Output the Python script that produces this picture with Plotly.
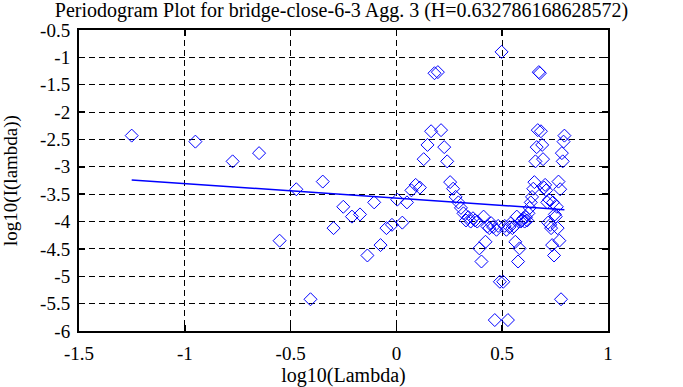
import plotly.graph_objects as go

# log10 of the Fourier frequencies (lambda) and log10 of the periodogram I(lambda)
log_lambda = [
    -1.251, -0.950, -0.774, -0.649, -0.552, -0.473, -0.406, -0.348, -0.297, -0.251,
    -0.210, -0.172, -0.137, -0.105, -0.075, -0.047, -0.021, 0.004, 0.028, 0.050,
    0.071, 0.091, 0.111, 0.129, 0.147, 0.164, 0.180, 0.196, 0.211, 0.226,
    0.240, 0.254, 0.268, 0.280, 0.293, 0.305, 0.317, 0.329, 0.340, 0.351,
    0.362, 0.372, 0.382, 0.392, 0.402, 0.412, 0.421, 0.430, 0.439, 0.448,
    0.457, 0.465, 0.473, 0.481, 0.489, 0.497, 0.505, 0.512, 0.520, 0.527,
    0.534, 0.541, 0.548, 0.555, 0.562, 0.569, 0.575, 0.582, 0.588, 0.594,
    0.600, 0.606, 0.612, 0.618, 0.624, 0.630, 0.635, 0.641, 0.647, 0.652,
    0.657, 0.663, 0.668, 0.673, 0.678, 0.683, 0.689, 0.693, 0.698, 0.703,
    0.708, 0.713, 0.717, 0.722, 0.727, 0.731, 0.736, 0.740, 0.745, 0.749,
    0.753, 0.758, 0.762, 0.766, 0.770, 0.774, 0.778, 0.782, 0.786, 0.790,
    0.794,
]
log_I = [
    -2.43, -2.54, -2.90, -2.75, -4.35, -3.41, -5.42, -3.27, -4.12, -3.73,
    -3.91, -3.87, -4.62, -3.65, -4.43, -4.12, -4.06, -3.60, -4.02, -3.65,
    -3.43, -3.33, -3.38, -2.86, -2.60, -2.35, -1.29, -1.27, -2.33, -2.64,
    -2.90, -3.28, -3.40, -3.55, -3.65, -3.75, -3.85, -3.98, -3.92, -4.00,
    -3.94, -3.98, -4.00, -4.49, -4.73, -3.91, -4.37, -4.09, -4.12, -4.03,
    -4.10, -5.80, -4.15, -4.08, -5.10, -0.90, -5.10, -4.08, -4.15, -5.80,
    -4.10, -4.03, -4.12, -4.09, -4.37, -3.91, -4.73, -4.49, -4.00, -3.98,
    -3.94, -4.00, -3.92, -3.98, -3.85, -3.75, -3.65, -3.55, -3.40, -3.28,
    -2.90, -2.64, -2.33, -1.27, -1.29, -2.35, -2.60, -2.86, -3.38, -3.33,
    -3.43, -3.65, -4.02, -3.60, -4.06, -4.12, -4.43, -3.65, -4.62, -3.87,
    -3.91, -3.73, -4.12, -3.27, -4.35, -3.41, -5.42, -2.75, -2.90, -2.54,
    -2.43,
]

# least-squares fit line: y = fit_intercept + fit_slope * x  (slope = 1 - 2H)
H = 0.632786168628572
fit_slope = 1 - 2 * H
fit_intercept = -3.572
fit_x = [log_lambda[0], log_lambda[-1]]
fit_y = [fit_intercept + fit_slope * v for v in fit_x]

x_ticks = [-1.5, -1, -0.5, 0, 0.5, 1]
y_ticks = [-0.5, -1, -1.5, -2, -2.5, -3, -3.5, -4, -4.5, -5, -5.5, -6]

FONT = "Liberation Serif, Times New Roman, serif"

fig = go.Figure()
fig.add_trace(go.Scatter(
    x=log_lambda, y=log_I, mode="markers",
    marker=dict(symbol="diamond-open", size=10, color="#0000ff",
                line=dict(width=1, color="#0000ff")),
    showlegend=False, hoverinfo="skip",
))
fig.add_trace(go.Scatter(
    x=fit_x, y=fit_y, mode="lines",
    line=dict(color="#0000ff", width=1.5),
    showlegend=False, hoverinfo="skip",
))

axis_common = dict(
    showline=True, linecolor="black", linewidth=2, mirror="allticks",
    ticks="inside", ticklen=6, tickwidth=1.5, tickcolor="black",
    showgrid=True, gridcolor="black", gridwidth=1, griddash="6px,4px",
    zeroline=False, automargin=False,
    tickfont=dict(family=FONT, size=19, color="black"),
)

fig.update_xaxes(
    range=[-1.5, 1], tickvals=x_ticks, ticktext=[str(t) for t in x_ticks],
    ticklabelstandoff=4,
    title=dict(text="log10(Lambda)", font=dict(family=FONT, size=20, color="black"),
               standoff=4),
    **axis_common,
)
fig.update_yaxes(
    range=[-6, -0.5], tickvals=y_ticks, ticktext=[str(t) for t in y_ticks],
    ticklabelstandoff=3,
    title=dict(text="log10(I(lambda))", font=dict(family=FONT, size=19, color="black"),
               standoff=18),
    **axis_common,
)

fig.update_layout(
    width=683, height=387,
    margin=dict(l=79, r=75, t=30, b=56),
    paper_bgcolor="white", plot_bgcolor="white",
    title=dict(text="Periodogram Plot for bridge-close-6-3 Agg. 3 (H=0.632786168628572)",
               font=dict(family=FONT, size=20, color="black"),
               x=0.5, xanchor="center", y=0.974, yanchor="middle", yref="container"),
)

fig.write_html("out.html", config={"displayModeBar": False, "staticPlot": True},
               post_script="document.body.style.margin='0';")
